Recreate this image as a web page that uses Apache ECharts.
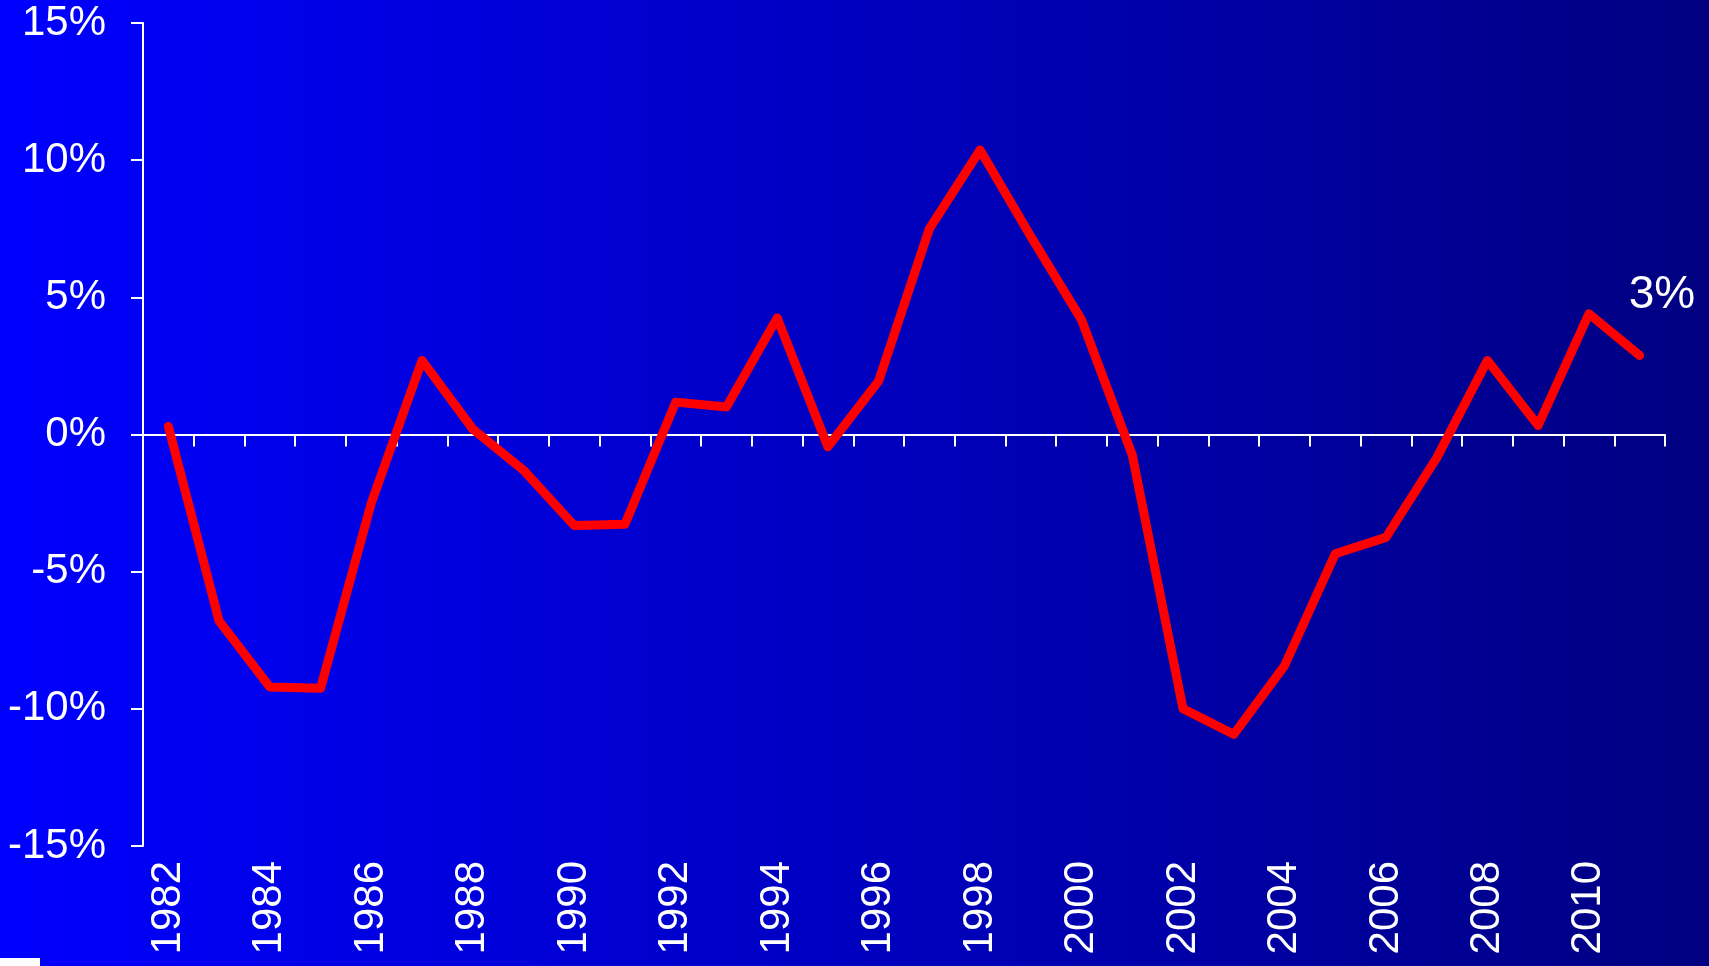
<!DOCTYPE html>
<html>
<head>
<meta charset="utf-8">
<script src="https://cdn.jsdelivr.net/npm/echarts@6/dist/echarts.min.js"></script>
<style>
html, body { margin: 0; padding: 0; }
#chart { width: 1709px; height: 966px; }
</style>
</head>
<body>
<div id="chart"></div>
<script>
// years on the x axis
const years = ['1982', '1983', '1984', '1985', '1986', '1987', '1988', '1989', '1990', '1991',
    '1992', '1993', '1994', '1995', '1996', '1997', '1998', '1999', '2000', '2001',
    '2002', '2003', '2004', '2005', '2006', '2007', '2008', '2009', '2010', '2011']

// yearly change, in %
const change = [0.3, -6.8, -9.2, -9.25, -2.5, 2.7, 0.2, -1.3, -3.32, -3.27,
    1.18, 1.0, 4.25, -0.45, 1.95, 7.5, 10.37, 7.22, 4.18, -0.75,
    -10.0, -10.93, -8.43, -4.35, -3.75, -0.85, 2.7, 0.33, 4.4, 2.88]

const font = "'Liberation Sans', Arial, sans-serif"

const myChart = echarts.init(document.getElementById('chart'))

const option = {
    backgroundColor: {
        type: 'linear', x: 0, y: 0, x2: 1, y2: 0,
        colorStops: [
            { offset: 0, color: '#0000ff' },
            { offset: 1, color: '#000080' }
        ]
    },
    animation: false,
    grid: { left: 143, right: 44, top: 23, bottom: 120 },
    xAxis: [
        {
            // zero line with the ticks
            type: 'category',
            data: years,
            boundaryGap: true,
            axisLine: { onZero: true, lineStyle: { color: '#ffffff', width: 2 } },
            axisTick: { show: true, interval: 0, length: 12, lineStyle: { color: '#ffffff', width: 2 } },
            axisLabel: { show: false },
            splitLine: { show: false }
        },
        {
            // year labels at the bottom
            type: 'category',
            data: years,
            position: 'bottom',
            boundaryGap: true,
            axisLine: { show: false, onZero: false },
            axisTick: { show: false },
            axisLabel: {
                interval: 1,
                rotate: 90,
                margin: 15,
                color: '#ffffff',
                fontSize: 42,
                fontFamily: font
            },
            splitLine: { show: false }
        }
    ],
    yAxis: {
        type: 'value',
        min: -15,
        max: 15,
        interval: 5,
        axisLine: { show: true, lineStyle: { color: '#ffffff', width: 2 } },
        axisTick: { show: true, length: 12, lineStyle: { color: '#ffffff', width: 2 } },
        axisLabel: {
            formatter: '{value}%',
            margin: 37,
            color: '#ffffff',
            fontSize: 42,
            fontFamily: font
        },
        splitLine: { show: false }
    },
    series: [
        {
            type: 'line',
            xAxisIndex: 0,
            data: change,
            symbol: 'none',
            lineStyle: { color: '#ff0000', width: 9, cap: 'round', join: 'round' },
            endLabel: {
                show: true,
                formatter: (p) => Math.round(p.value) + '%',
                distance: 0,
                offset: [-11, -60],
                color: '#ffffff',
                fontSize: 46,
                fontFamily: font
            }
        }
    ],
    graphic: [
        {
            type: 'rect',
            left: 0,
            bottom: 0,
            shape: { width: 40, height: 8 },
            style: { fill: '#ffffff' }
        }
    ]
}

myChart.setOption(option)
window.addEventListener('resize', () => myChart.resize())
</script>
</body>
</html>
